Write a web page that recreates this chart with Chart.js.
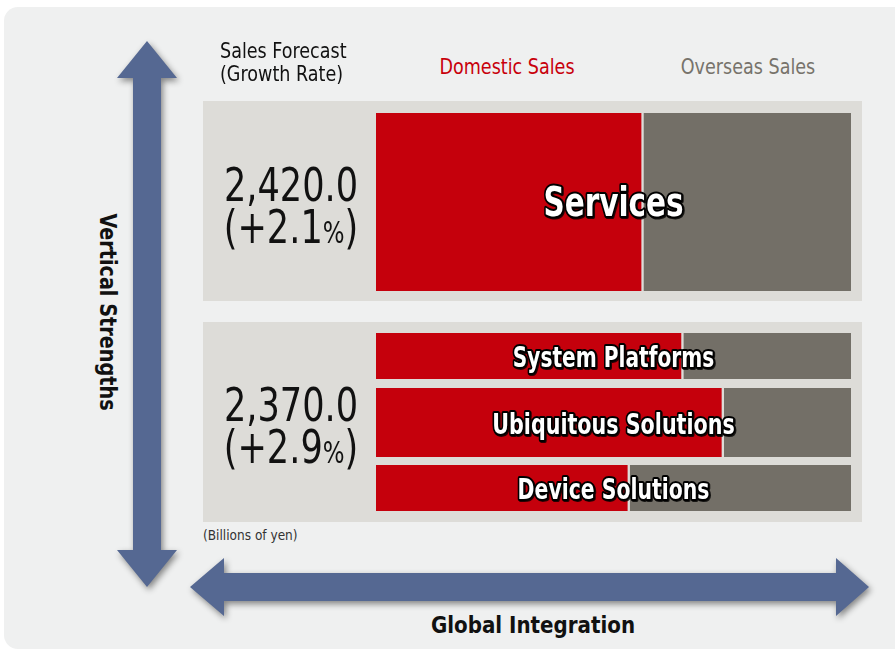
<!DOCTYPE html>
<html>
<head>
<meta charset="utf-8">
<script src="https://cdn.jsdelivr.net/npm/chart.js@4.4.1/dist/chart.umd.min.js"></script>
<style>
  html, body { margin: 0; padding: 0; background: #fff; }
  body { width: 895px; height: 650px; position: relative; overflow: hidden;
    font-family: "DejaVu Sans Condensed", "Liberation Sans Narrow", sans-serif; }
  .abs { position: absolute; }
  #frame { left: 4px; top: 7px; width: 905px; height: 642px; background: #eff0f0; border-radius: 14px; }
  .panel { background: #dddcd8; left: 203px; width: 659px; height: 200px; }
  .big { left: 203px; width: 176px; text-align: center; font-size: 46px; line-height: 42px; color: #111;
    transform: scaleX(0.85); transform-origin: 50% 0; }
  .big small { font-size: 30px; }
  .head { font-size: 21px; line-height: 23px; white-space: nowrap; }
  canvas { position: absolute; }
  #arrows { left: 0; top: 0; filter: drop-shadow(2px 3px 3px rgba(0,0,0,0.45)); }
  .axis { font-weight: bold; font-size: 23px; color: #111; white-space: nowrap; }
</style>
</head>
<body>
<div id="frame" class="abs"></div>
<svg id="arrows" class="abs" width="895" height="650">
  <polygon fill="#556892" points="147,41 177,78 161,78 161,550 177,550 147,587 117,550 133,550 133,78 117,78"/>
  <polygon fill="#556892" points="190,587 224,558 224,573 836,573 836,558 869,587 836,616 836,601 224,601 224,616"/>
</svg>

<div class="abs head" style="left:220px; top:40px; color:#111; transform:scaleX(0.93); transform-origin:0 0;">Sales Forecast<br>(Growth Rate)</div>
<div class="abs head" style="left:507px; top:56px; color:#c8000b; transform:translateX(-50%) scaleX(0.93);">Domestic Sales</div>
<div class="abs head" style="left:748px; top:56px; color:#77736b; transform:translateX(-50%) scaleX(0.93);">Overseas Sales</div>

<div class="abs panel" style="top:101px;"></div>
<div class="abs panel" style="top:322px;"></div>

<div class="abs big" id="total0" style="top:164px;"></div>
<div class="abs big" id="total1" style="top:384px;"></div>

<canvas id="row0"></canvas>
<canvas id="row1"></canvas>
<canvas id="row2"></canvas>
<canvas id="row3"></canvas>

<div class="abs" style="left:203px; top:527px; font-size:13.5px; color:#333;">(Billions of yen)</div>
<div class="abs axis" style="left:533px; top:612px; transform:translateX(-50%) scaleX(0.96);">Global Integration</div>
<div class="abs axis" style="left:108px; top:312px; transform:translate(-50%,-50%) rotate(90deg) scaleX(0.93);">Vertical Strengths</div>

<script>
// segments and their domestic / overseas split (% of segment sales)
const segments = ['Services', 'System Platforms', 'Ubiquitous Solutions', 'Device Solutions'];
const domesticShare = [55.8, 64.2, 72.7, 52.9];
const overseasShare = [44.2, 35.8, 27.3, 47.1];

// sales forecast per group (billions of yen) and growth rate
const groupTotals = ['2,420.0', '2,370.0'];
const groupGrowth = ['+2.1', '+2.9'];

const RED = '#c5000c';
const GRAY = '#736f67';
const PANEL = '#dddcd8';
const FONT = '"DejaVu Sans Condensed", "Liberation Sans Narrow", sans-serif';

// row boxes on the page (left, top, width, height, label size, label squeeze)
const rowBoxes = [
  [376, 113, 475, 178, 40, 0.82],
  [376, 333, 475, 46, 28, 0.8],
  [376, 388, 475, 69, 28, 0.82],
  [376, 465, 475, 46, 28, 0.81]
];

groupTotals.forEach((t, i) => {
  document.getElementById('total' + i).innerHTML = t + '<br>(' + groupGrowth[i] + '<small>%</small>)';
});

const labelPlugin = {
  id: 'segLabel',
  afterDatasetsDraw(chart, _args, opts) {
    const { ctx, chartArea } = chart;
    const x = (chartArea.left + chartArea.right) / 2;
    const y = (chartArea.top + chartArea.bottom) / 2;
    ctx.save();
    ctx.translate(x, y + 4);
    ctx.scale(opts.squeeze, 1);
    ctx.font = 'bold ' + opts.size + 'px ' + FONT;
    ctx.textAlign = 'center';
    ctx.textBaseline = 'middle';
    ctx.lineJoin = 'round';
    ctx.lineWidth = 4;
    ctx.strokeStyle = '#000';
    ctx.shadowColor = 'rgba(0,0,0,0.8)';
    ctx.shadowOffsetX = 1;
    ctx.shadowOffsetY = 1;
    ctx.strokeText(chart.data.labels[0], 0, 0);
    ctx.shadowColor = 'transparent';
    ctx.fillStyle = '#fff';
    ctx.fillText(chart.data.labels[0], 0, 0);
    ctx.restore();
  }
};

segments.forEach((name, i) => {
  const box = rowBoxes[i];
  const canvas = document.getElementById('row' + i);
  canvas.style.left = box[0] + 'px';
  canvas.style.top = box[1] + 'px';
  canvas.width = box[2];
  canvas.height = box[3];
  new Chart(canvas.getContext('2d'), {
    type: 'bar',
    data: {
      labels: [name],
      datasets: [
        { label: 'Domestic Sales', data: [domesticShare[i]], backgroundColor: RED, borderWidth: 0 },
        {
          label: 'Overseas Sales',
          data: [overseasShare[i]],
          backgroundColor: GRAY,
          borderColor: PANEL,
          borderWidth: { left: 3, top: 0, right: 0, bottom: 0 },
          borderSkipped: false
        }
      ]
    },
    options: {
      indexAxis: 'y',
      responsive: false,
      animation: false,
      barPercentage: 1,
      categoryPercentage: 1,
      layout: { padding: 0 },
      plugins: {
        legend: { display: false },
        tooltip: { enabled: false },
        segLabel: { size: box[4], squeeze: box[5] }
      },
      scales: {
        x: { stacked: true, min: 0, max: 100, display: false },
        y: { stacked: true, display: false }
      }
    },
    plugins: [labelPlugin]
  });
});
</script>
</body>
</html>
